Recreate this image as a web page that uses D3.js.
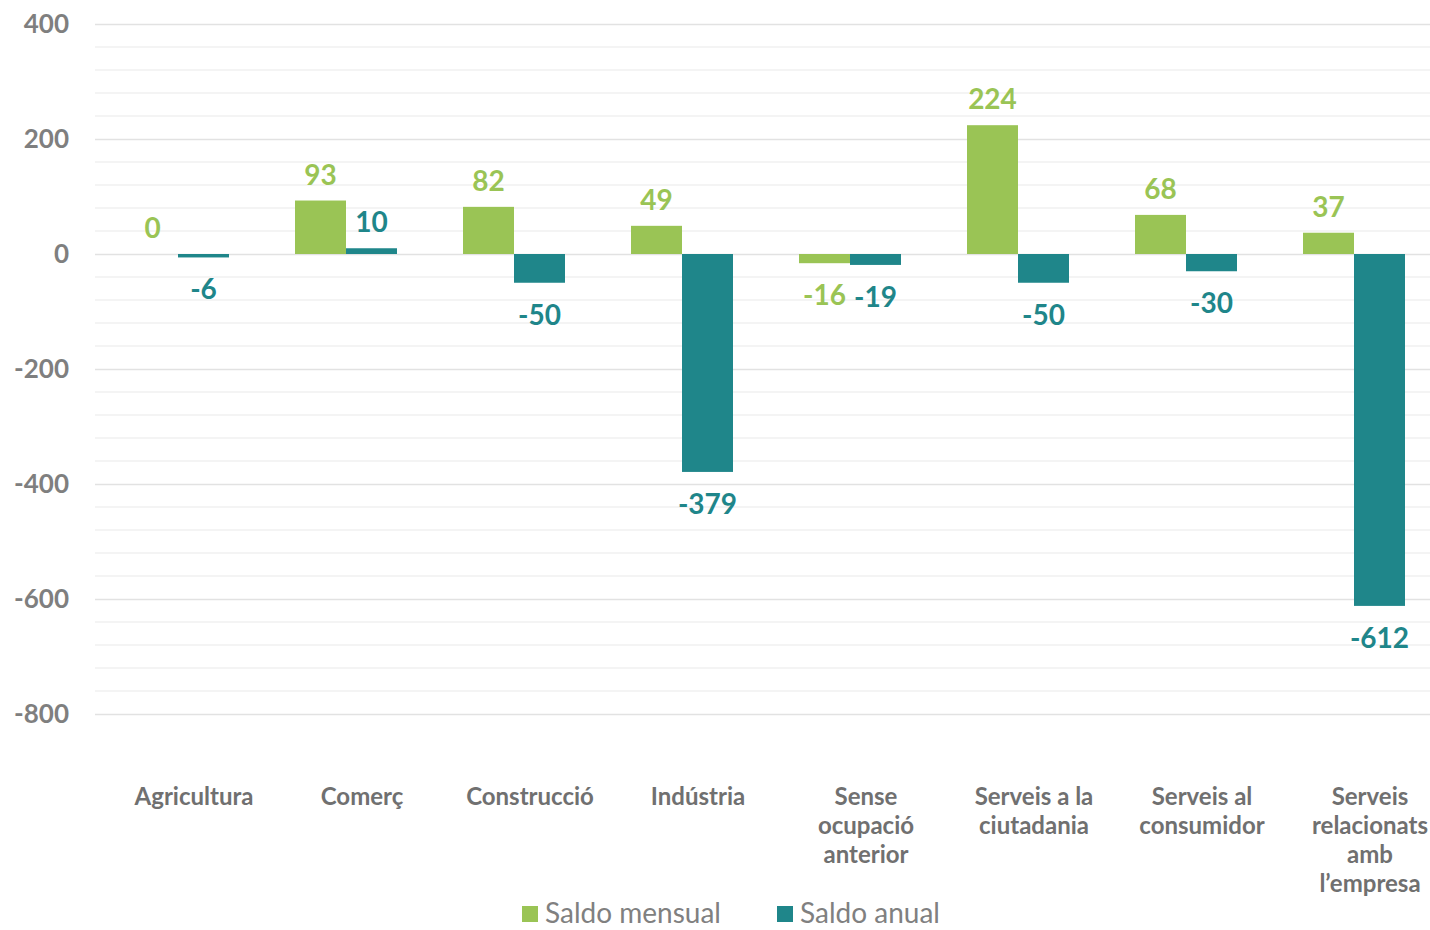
<!DOCTYPE html>
<html>
<head>
<meta charset="utf-8">
<script src="https://cdn.jsdelivr.net/npm/d3@7"></script>
<style>
  body { margin: 0; background: #fff; }
  svg { font-family: Lato, "Open Sans", sans-serif; }
</style>
</head>
<body>
<svg id="chart"></svg>
<script>
const width = 1430;
const height = 930;

const categories = [
    ['Agricultura'],
    ['Comerç'],
    ['Construcció'],
    ['Indústria'],
    ['Sense', 'ocupació', 'anterior'],
    ['Serveis a la', 'ciutadania'],
    ['Serveis al', 'consumidor'],
    ['Serveis', 'relacionats', 'amb', 'l\u2019empresa']
];
const saldoMensual = [0, 93, 82, 49, -16, 224, 68, 37];
const saldoAnual = [-6, 10, -50, -379, -19, -50, -30, -612];
const seriesNames = ['Saldo mensual', 'Saldo anual'];
const yTicks = [400, 200, 0, -200, -400, -600, -800];

const colors = ['#9ac455', '#1f868a'];

const data = categories.map((c, i) => ({
    key: i,
    lines: c,
    values: [saldoMensual[i], saldoAnual[i]]
}));

const svg = d3.select('#chart')
    .attr('width', width)
    .attr('height', height);

const xScale = d3.scaleBand()
    .domain(data.map(d => d.key))
    .range([94, 1438]);

const xInner = d3.scaleBand()
    .domain([0, 1])
    .range([xScale.bandwidth() / 2 - 51, xScale.bandwidth() / 2 + 51]);

const yScale = d3.scaleLinear()
    .domain([-800, 400])
    .range([714, 24]);

// minor grid every 40
svg.append('g')
    .selectAll('line')
    .data(d3.range(-800, 401, 40).filter(v => v % 200 !== 0))
    .enter()
    .append('line')
        .attr('x1', 95)
        .attr('x2', 1430)
        .attr('y1', d => yScale(d))
        .attr('y2', d => yScale(d))
        .attr('stroke', '#f1f1f1')
        .attr('stroke-width', 1.5);

// major grid + tick labels
const yAxis = d3.axisLeft(yScale)
    .tickValues(yTicks)
    .tickFormat(d => String(d))
    .tickSize(-(1430 - 95))
    .tickPadding(26)
    .tickSizeOuter(0);

const yG = svg.append('g')
    .attr('transform', 'translate(95, 0)')
    .call(yAxis);
yG.select('.domain').remove();
yG.selectAll('.tick line').attr('stroke', '#e2e2e2').attr('stroke-width', 1.5);
yG.selectAll('.tick text')
    .attr('fill', '#7f7f7f')
    .style('font-size', '26px')
    .style('font-weight', 'bold')
    .style('font-family', 'Lato, sans-serif');

// bars
const groups = svg.append('g')
    .selectAll('g')
    .data(data)
    .enter()
    .append('g')
        .attr('transform', d => `translate(${xScale(d.key)}, 0)`);

groups.selectAll('rect')
    .data(d => d.values.map((v, s) => ({ s, v })))
    .enter()
    .append('rect')
        .attr('x', d => xInner(d.s))
        .attr('width', xInner.bandwidth())
        .attr('y', d => yScale(Math.max(0, d.v)))
        .attr('height', d => Math.abs(yScale(d.v) - yScale(0)))
        .attr('fill', d => colors[d.s]);

groups.selectAll('text.val')
    .data(d => d.values.map((v, s) => ({ s, v })))
    .enter()
    .append('text')
        .attr('class', 'val')
        .attr('x', d => xInner(d.s) + xInner.bandwidth() / 2)
        .attr('y', d => d.v >= 0 ? yScale(d.v) - 16 : yScale(d.v) + 42)
        .attr('text-anchor', 'middle')
        .attr('fill', d => colors[d.s])
        .style('font-size', '28px')
        .style('font-weight', 'bold')
        .text(d => d.v);

// category labels
groups.append('text')
    .attr('text-anchor', 'middle')
    .attr('fill', '#707070')
    .style('font-size', '24px')
    .style('font-weight', 'bold')
    .selectAll('tspan')
    .data(d => d.lines)
    .enter()
    .append('tspan')
        .attr('x', xScale.bandwidth() / 2 + 16)
        .attr('y', (d, i) => 805 + i * 29)
        .text(d => d);

// legend
const legendX = [522, 777];
const legend = svg.append('g')
    .selectAll('g')
    .data(seriesNames)
    .enter()
    .append('g')
        .attr('transform', (d, i) => `translate(${legendX[i]}, 906)`);

legend.append('rect')
    .attr('width', 16)
    .attr('height', 16)
    .attr('fill', (d, i) => colors[i]);

legend.append('text')
    .attr('x', 23)
    .attr('y', 17)
    .attr('fill', '#808080')
    .style('font-size', '28px')
    .text(d => d);
</script>
</body>
</html>
